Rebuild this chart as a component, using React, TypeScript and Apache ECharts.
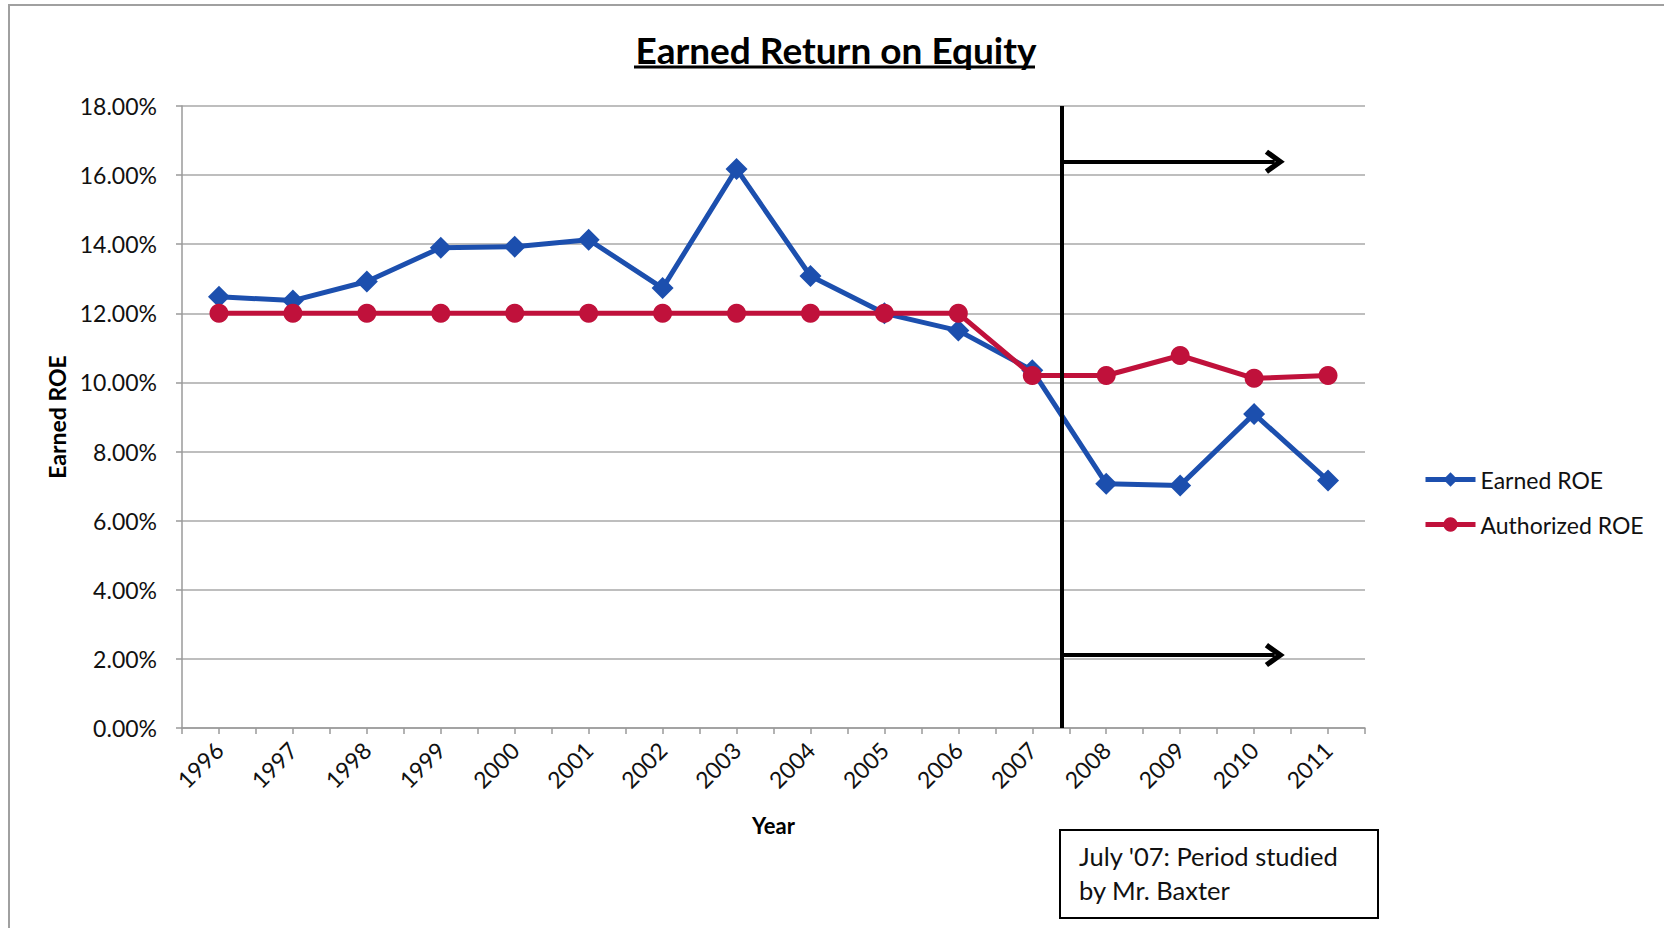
import React, { useEffect, useRef } from "react";
import * as echarts from "echarts";

const years = [1996, 1997, 1998, 1999, 2000, 2001, 2002, 2003, 2004, 2005, 2006, 2007, 2008, 2009, 2010, 2011];
const earnedROE = [12.48, 12.37, 12.92, 13.9, 13.93, 14.13, 12.73, 16.18, 13.08, 12.0, 11.5, 10.35, 7.07, 7.02, 9.09, 7.16];
const authorizedROE = [12, 12, 12, 12, 12, 12, 12, 12, 12, 12, 12, 10.2, 10.2, 10.78, 10.12, 10.2];
const yTicks = { min: 0, max: 18, interval: 2 };

// hand-drawn annotation (data coordinates)
const studyLineX = 2007.4;
const arrowEndX = 2010.28;
const arrowYs = [16.39, 2.11];
const noteLines = ["July '07: Period studied", "by Mr. Baxter"];

const FONT = "Lato, 'Open Sans', sans-serif";
const BLUE = "#1c4fae";
const RED = "#c0113b";

const chevron = "path://M10,0 L20,13 L16.5,15.5 L10,7 L3.5,15.5 L0,13 Z";

export default function App() {
  const ref = useRef<HTMLDivElement>(null);
  useEffect(() => {
    if (!ref.current) return;
    const chart = echarts.init(ref.current, null, { renderer: "svg" });
    const seriesData = (vals: number[]) => years.map((y, i) => [y, vals[i]]);
    chart.setOption({
      animation: false,
      backgroundColor: "#ffffff",
      textStyle: { fontFamily: FONT },
      title: {
        text: "Earned Return on Equity",
        left: 831,
        textAlign: "center",
        top: 26,
        textStyle: { fontFamily: FONT, fontSize: 37, fontWeight: "bold", color: "#000" },
      },
      grid: { left: 182, top: 106, right: 299, bottom: 200, containLabel: false },
      legend: {
        orient: "vertical",
        left: 1418,
        top: 463,
        itemWidth: 50,
        itemHeight: 18,
        itemGap: 22,
        data: ["Earned ROE", "Authorized ROE"],
        lineStyle: { width: 5 },
        textStyle: { fontFamily: FONT, fontSize: 23, color: "#111" },
      },
      xAxis: {
        type: "value",
        min: 1995.5,
        max: 2011.5,
        interval: 0.5,
        name: "Year",
        nameLocation: "middle",
        nameGap: 86,
        nameTextStyle: { fontFamily: FONT, fontSize: 22, fontWeight: "bold", color: "#000" },
        splitLine: { show: false },
        axisLine: { lineStyle: { color: "#9a9a9a", width: 1.5 } },
        axisTick: { show: true, length: 6, lineStyle: { color: "#9a9a9a", width: 1.5 } },
        axisLabel: {
          rotate: 45,
          margin: 18,
          fontFamily: FONT,
          fontSize: 23,
          color: "#111",
          formatter: (v: number) => (Number.isInteger(v) ? String(v) : ""),
        },
      },
      yAxis: {
        type: "value",
        min: yTicks.min,
        max: yTicks.max,
        interval: yTicks.interval,
        name: "Earned ROE",
        nameLocation: "middle",
        nameRotate: 90,
        nameGap: 111,
        nameTextStyle: { fontFamily: FONT, fontSize: 23, fontWeight: "bold", color: "#000" },
        axisLine: { show: true, lineStyle: { color: "#9a9a9a", width: 1.5 } },
        axisTick: { show: true, length: 6, lineStyle: { color: "#9a9a9a", width: 1.5 } },
        splitLine: { lineStyle: { color: "#a8a8a8", width: 1.5 } },
        axisLabel: {
          margin: 25,
          fontFamily: FONT,
          fontSize: 23,
          color: "#111",
          formatter: (v: number) => v.toFixed(2) + "%",
        },
      },
      series: [
        {
          name: "Earned ROE",
          type: "line",
          data: seriesData(earnedROE),
          symbol: "diamond",
          symbolSize: 22,
          lineStyle: { color: BLUE, width: 5 },
          itemStyle: { color: BLUE },
          z: 2,
        },
        {
          name: "Authorized ROE",
          type: "line",
          data: seriesData(authorizedROE),
          symbol: "circle",
          symbolSize: 19,
          lineStyle: { color: RED, width: 5 },
          itemStyle: { color: RED },
          z: 3,
        },
        {
          name: "annotation",
          type: "line",
          data: [],
          z: 5,
          markLine: {
            silent: true,
            animation: false,
            label: { show: false },
            lineStyle: { color: "#000", width: 4, type: "solid" },
            data: [
              [
                { coord: [studyLineX, yTicks.max], symbol: "none" },
                { coord: [studyLineX, yTicks.min], symbol: "none" },
              ],
              ...arrowYs.map((y) => [
                { coord: [studyLineX, y], symbol: "none" },
                { coord: [arrowEndX, y], symbol: chevron, symbolSize: [24, 20] },
              ]),
            ],
          },
        },
      ],
      graphic: [
        {
          type: "rect",
          shape: { x: 9, y: 5, width: 1700, height: 1000 },
          style: { fill: "none", stroke: "#a0a0a0", lineWidth: 2 },
          silent: true,
        },
        {
          type: "line",
          shape: { x1: 634, y1: 67, x2: 1035, y2: 67 },
          style: { stroke: "#000", lineWidth: 3 },
          silent: true,
        },
        {
          type: "group",
          left: 1059,
          top: 829,
          children: [
            {
              type: "rect",
              shape: { x: 0, y: 0, width: 318, height: 88 },
              style: { fill: "#fff", stroke: "#000", lineWidth: 2 },
            },
            {
              type: "text",
              x: 19,
              y: 26,
              style: {
                text: noteLines[0],
                fontFamily: FONT,
                fontSize: 25.5,
                fill: "#111",
                textVerticalAlign: "middle",
              },
            },
            {
              type: "text",
              x: 19,
              y: 60,
              style: {
                text: noteLines[1],
                fontFamily: FONT,
                fontSize: 25.5,
                fill: "#111",
                textVerticalAlign: "middle",
              },
            },
          ],
        },
      ],
    });
    return () => chart.dispose();
  }, []);
  return (
    <div
      ref={ref}
      style={{ position: "fixed", left: 0, top: 0, width: 1664, height: 928, background: "#fff" }}
    />
  );
}
